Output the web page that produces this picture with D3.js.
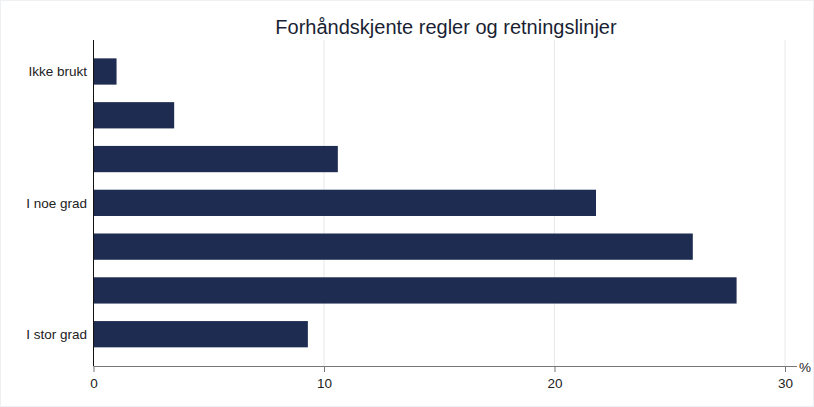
<!DOCTYPE html>
<html>
<head>
<meta charset="utf-8">
<script src="https://cdn.jsdelivr.net/npm/d3@7"></script>
<style>
  body { margin: 0; background: #fff; }
  svg { display: block; font-family: "Liberation Sans", Arial, sans-serif; }
</style>
</head>
<body>
<svg id="chart" width="814" height="407"></svg>
<script>
const title = "Forhåndskjente regler og retningslinjer";
const categories = ["1", "2", "3", "4", "5", "6", "7"];
const categoryLabels = ["Ikke brukt", "", "", "I noe grad", "", "", "I stor grad"];
const values = [1.0, 3.5, 10.6, 21.8, 26.0, 27.9, 9.3];
const xTicks = [0, 10, 20, 30];
const unitLabel = "%";

const svg = d3.select("#chart");
const W = 814, H = 407;

// faint frame
svg.append("rect").attr("x", 0.5).attr("y", 0.5).attr("width", W - 1).attr("height", H - 1)
  .attr("fill", "none").attr("stroke", "#eef1f4");

const x = d3.scaleLinear().domain([0, 30]).range([93.5, 785]);
const y = d3.scaleBand().domain(categories).range([49.6, 356.1]).paddingInner(0.4).paddingOuter(0.2);
const plotTop = 40, plotBottom = 366;

// title
svg.append("text").attr("x", 446).attr("y", 34).attr("text-anchor", "middle")
  .attr("font-size", 20).attr("fill", "#1a1f33").text(title);

// gridlines
svg.append("g").selectAll("line").data(xTicks.filter(d => d > 0)).join("line")
  .attr("x1", d => x(d)).attr("x2", d => x(d))
  .attr("y1", plotTop).attr("y2", plotBottom)
  .attr("stroke", "#e8e8e8").attr("stroke-width", 1);

// bars
svg.append("g").selectAll("rect").data(values).join("rect")
  .attr("x", x(0))
  .attr("y", (d, i) => y(categories[i]))
  .attr("width", d => x(d) - x(0))
  .attr("height", y.bandwidth())
  .attr("fill", "#1f2c52");

// x axis
const xAxis = d3.axisBottom(x).tickValues(xTicks).tickSize(6).tickSizeOuter(0).tickFormat(d3.format("d"));
const gx = svg.append("g").attr("transform", `translate(0,${plotBottom})`).call(xAxis);
gx.select(".domain").attr("d", `M${x(0)},0.5H797`).attr("stroke", "#777");
gx.selectAll(".tick line").attr("stroke", "#777");
gx.selectAll(".tick text").attr("font-size", 13.5).attr("fill", "#222").attr("dy", "0.95em")
  .attr("font-family", "Liberation Sans, Arial, sans-serif");

svg.append("text").attr("x", 799).attr("y", 372).attr("font-size", 13.5).attr("fill", "#222").text(unitLabel);

// y axis line
svg.append("line").attr("x1", x(0)).attr("x2", x(0)).attr("y1", plotTop).attr("y2", plotBottom)
  .attr("stroke", "#111").attr("stroke-width", 1);

// category labels
svg.append("g").selectAll("text").data(categories).join("text")
  .attr("x", 87)
  .attr("y", d => y(d) + y.bandwidth() / 2)
  .attr("dy", "0.35em")
  .attr("text-anchor", "end")
  .attr("font-size", 13.5)
  .attr("fill", "#222")
  .text((d, i) => categoryLabels[i]);
</script>
</body>
</html>
